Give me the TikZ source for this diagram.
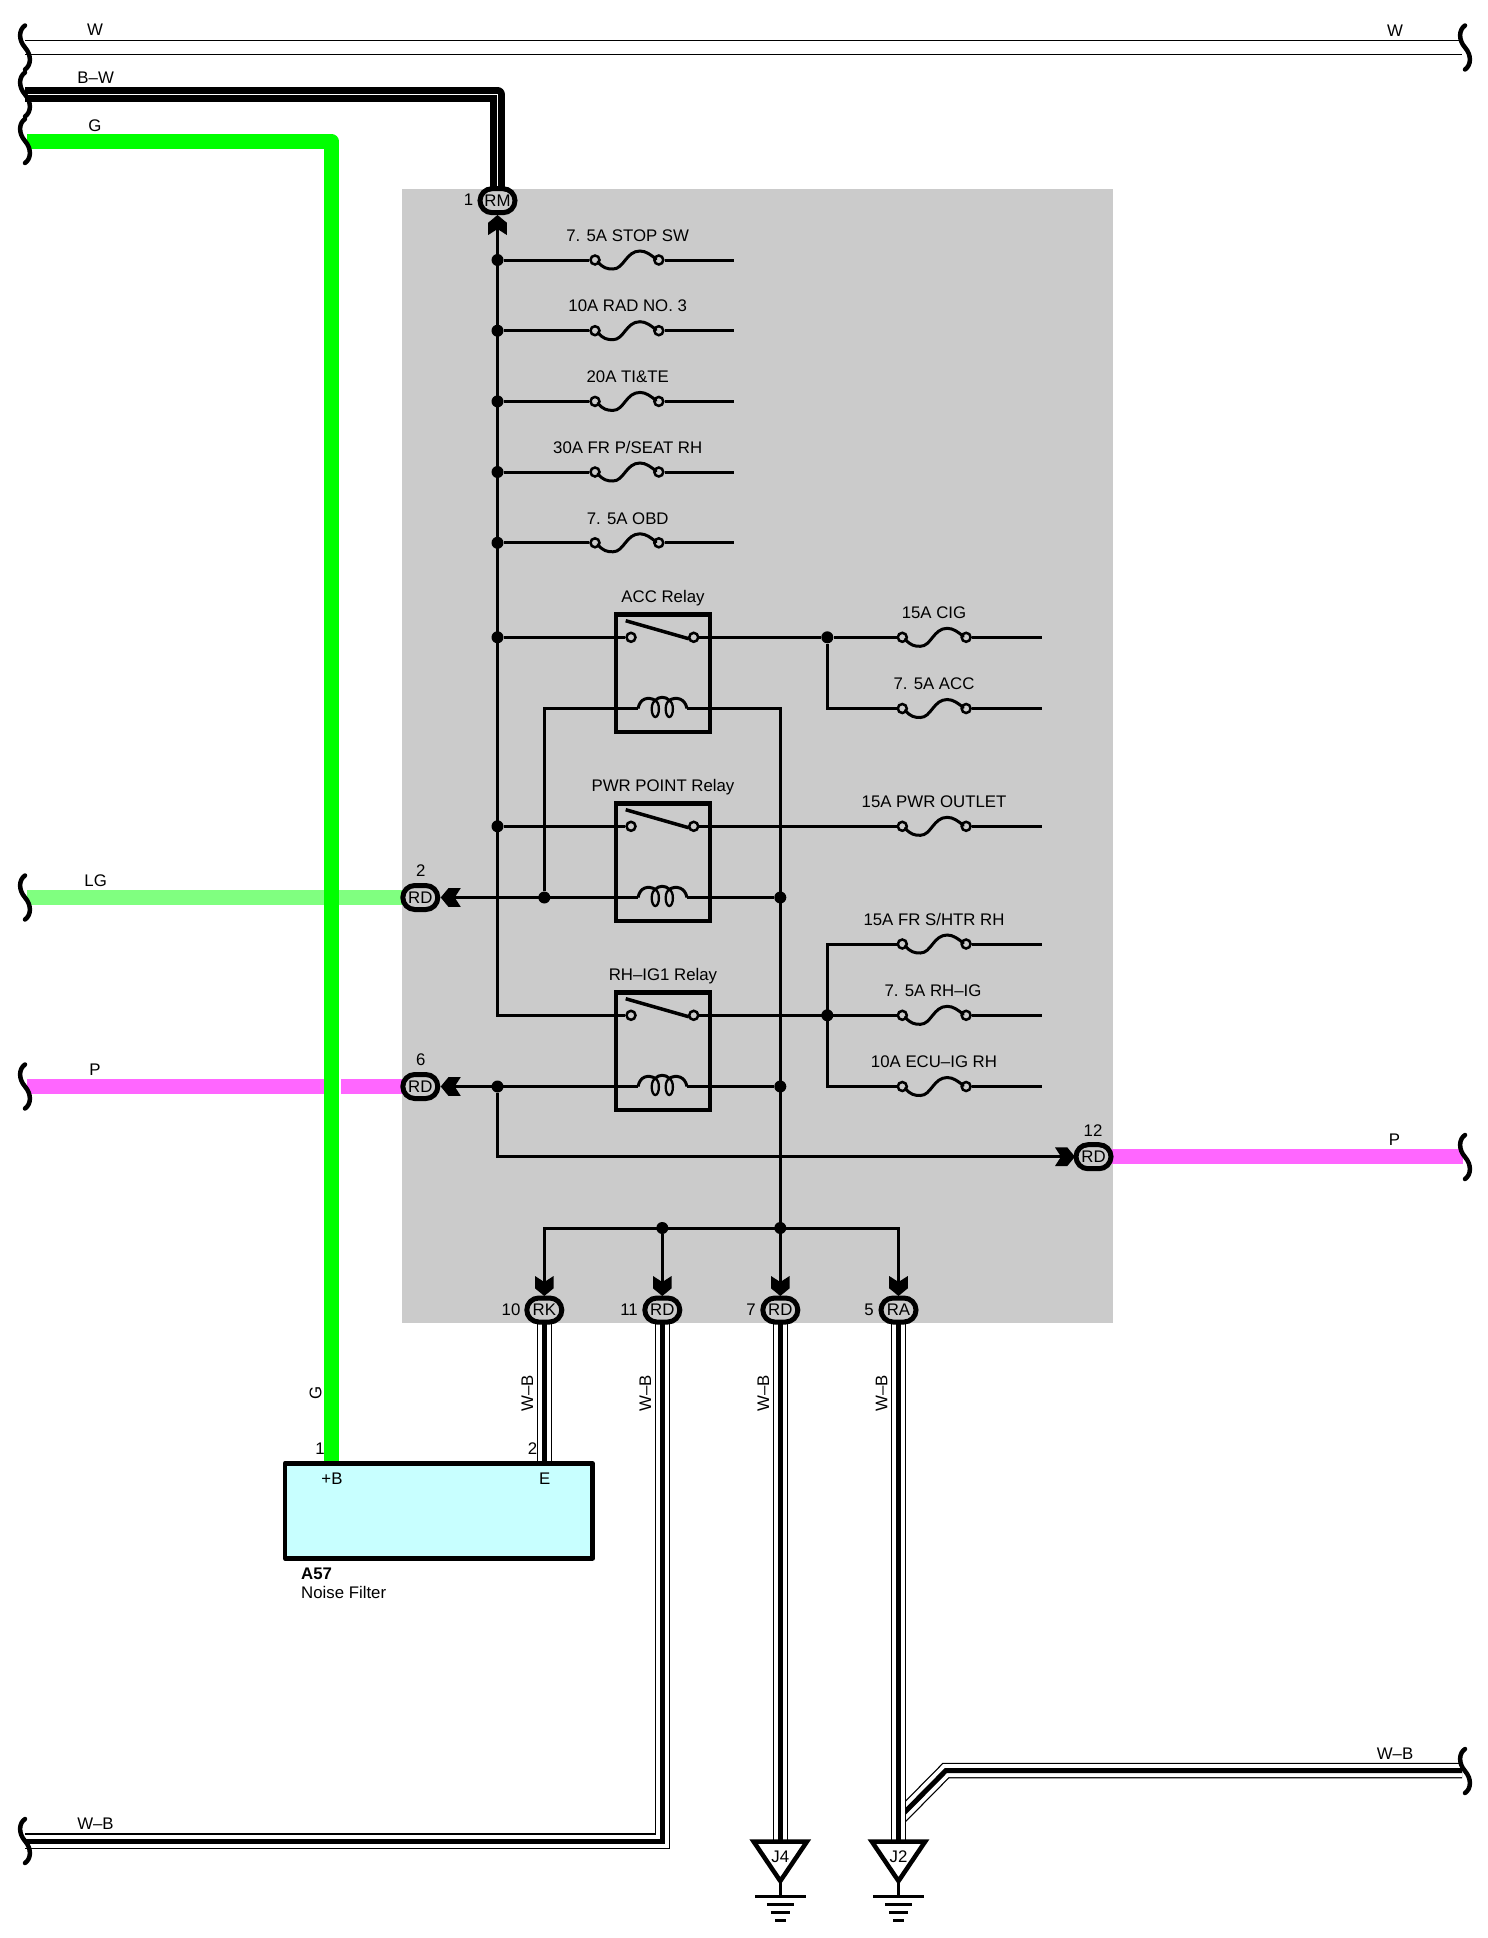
\documentclass[tikz,border=0pt]{standalone}
\usepackage{fontspec}
\setmainfont{Liberation Sans}
\usetikzlibrary{shapes.misc}
\definecolor{panelgray}{HTML}{CBCBCB}
\definecolor{wiregreen}{HTML}{00FF00}
\definecolor{wirelg}{HTML}{80FF80}
\definecolor{wirepink}{HTML}{FF66FF}
\definecolor{boxcyan}{HTML}{C8FFFF}
\tikzset{
  lbl/.style={inner sep=0pt,font=\fontsize{16.8}{18}\selectfont},
  boldlbl/.style={inner sep=0pt,font=\fontsize{16.8}{18}\selectfont\bfseries},
  sig/.style={line width=3pt,black,line join=miter},
  pin/.style={circle,draw=black,fill=panelgray,line width=2.5pt,minimum size=9pt,inner sep=0pt},
  dotn/.style={circle,fill=black,minimum size=12pt,inner sep=0pt},
  plug/.style={rounded rectangle,draw=black,fill=panelgray,line width=5pt,minimum width=35pt,minimum height=24pt,inner sep=0pt,font=\fontsize{16.8}{18}\selectfont},
  relaybox/.style={rectangle,draw=black,line width=4.5pt,minimum width=94pt,minimum height=117.5pt,inner sep=0pt},
  colorwire/.style={line width=15pt,line join=round},
  wbo/.style={line width=15.5pt,black,line join=miter},
  wbw/.style={line width=13pt,white,line join=miter},
  wbc/.style={line width=5pt,black,line join=miter},
  squigline/.style={line width=4.5pt,black,line cap=round},
  groundbar/.style={line width=3pt,black},
}
\newcommand{\squigmark}[2]{\draw[squigline] (#1,#2-22) .. controls (#1-6,#2-18) and (#1-7,#2-8) .. (#1,#2) .. controls (#1+7,#2+8) and (#1+6,#2+18) .. (#1,#2+22);}
\newcommand{\wbwire}[1]{\draw[wbo] #1; \draw[wbw] #1; \draw[wbc] #1;}
\newcommand{\tipmark}[3]{\begin{scope}[shift={(#1,#2)},rotate=#3]\fill[black] (0pt,0pt) -- (7.7pt,9.3pt) -- (20pt,9.3pt) -- (14pt,0pt) -- (20pt,-9.3pt) -- (7.7pt,-9.3pt) -- cycle;\end{scope}}
% id, left x, y, label, label x
\newcommand{\fusepart}[5]{%
  \node[pin] (#1-a) at (#2,#3) {};
  \node[pin] (#1-b) at (#2+63.8,#3) {};
  \draw[sig,line cap=round] (#2+3,#3+2) .. controls (#2+8,#3+8) and (#2+12,#3+9) .. (#2+18,#3+9) .. controls (#2+29,#3+9) and (#2+31,#3-9) .. (#2+45,#3-9) .. controls (#2+51,#3-9) and (#2+56,#3-5) .. (#2+61,#3-1);
  \node[lbl] (#1-t) at (#5,#3-24.5) {#4};
}
% id, contact y, label
\newcommand{\relaypart}[3]{%
  \node[relaybox] (#1) at (663,#2+36) {};
  \node[lbl] (#1-t) at (663,#2-39.5) {#3};
  \node[pin] (#1-l) at (631,#2) {};
  \node[pin] (#1-r) at (693.7,#2) {};
  \draw[line width=3.5pt,black] (625.7,#2-16.6) -- (689,#2+1.5);
  \coordinate (#1-cl) at (638,#2+71.2);
  \coordinate (#1-cr) at (687,#2+71.2);
  \draw[line width=3pt,black] (#1-cl) .. controls (640,#2+61) and (648,#2+59) .. (655.3,#2+63) .. controls (659,#2+59) and (665.5,#2+59) .. (669.3,#2+63) .. controls (676,#2+59) and (685,#2+61) .. (#1-cr);
  \draw[line width=2.3pt,black] (655.3,#2+71.7) ellipse [x radius=3.6pt,y radius=8pt];
  \draw[line width=2.3pt,black] (669.3,#2+71.7) ellipse [x radius=3.6pt,y radius=8pt];
}
% id, x, text
\newcommand{\groundpart}[3]{%
  \coordinate (#1-s) at (#2,1881);
  \coordinate (#1-g) at (#2,1896);
  \draw[line width=3pt,black] (#1-s) -- (#1-g);
  \draw[line width=4.5pt,black,fill=white,line join=miter] (#2-26.7,1841.5) -- (#2+26.7,1841.5) -- (#1-s) -- cycle;
  \node[lbl] (#1-t) at (#2,1857) {#3};
  \draw[groundbar] (#2-25.3,1896) -- (#2+25.3,1896);
  \draw[groundbar] (#2-13.5,1904.3) -- (#2+13.5,1904.3);
  \draw[groundbar] (#2-9.5,1912.7) -- (#2+9.5,1912.7);
  \draw[groundbar] (#2-5.3,1920.3) -- (#2+5.3,1920.3);
}
\begin{document}
\begin{tikzpicture}[x=1pt,y=-1pt]
\useasboundingbox (0,0) rectangle (1488,1938);
\fill[white] (0,0) rectangle (1488,1938);
% panel
\fill[panelgray] (402.3,189) rectangle (1112.5,1322.7);

% connector centres
\coordinate (cRM) at (497.5,200.7);
\coordinate (cD2) at (420.3,897.5);
\coordinate (cD6) at (420.3,1086.5);
\coordinate (cD12) at (1093.5,1156.7);
\coordinate (cRK) at (544.3,1310);
\coordinate (cD11) at (662.3,1310);
\coordinate (cD7) at (780.3,1310);
\coordinate (cRA) at (898.5,1310);

% free wire ends
\coordinate (wL) at (25,47.3);  \coordinate (wR) at (1462,47.3);
\coordinate (bwL) at (25,94.4); \coordinate (bwC) at (497.5,94.4);
\coordinate (gL) at (27,141.5); \coordinate (gC) at (331.7,141.5);
\coordinate (gE) at (331.7,1463);
\coordinate (lgL) at (27,897.5);
\coordinate (pL) at (27,1086.5);
\coordinate (pR) at (1463,1156.7);
\coordinate (ebT) at (544.3,1463);
\coordinate (wbL) at (25,1841);   \coordinate (wbC) at (662.3,1841);
\coordinate (j4T) at (780.3,1841);
\coordinate (j2T) at (898.5,1841);
\coordinate (brA) at (898.5,1818.5); \coordinate (brB) at (945.7,1770.7); \coordinate (brC) at (1462,1770.7);

% harness wires
\draw[wbo] (wL) -- (wR);
\draw[wbw] (wL) -- (wR);
\draw[line width=15pt,black,line join=round] (bwL) -- (bwC) -- (cRM);
\draw[line width=1.2pt,white] (bwL) -- (bwC) -- (cRM);
\draw[colorwire,wirelg] (lgL) -- (cD2);
\draw[colorwire,wirepink] (pL) -- (cD6);
\draw[line width=1.5pt,white] (339.8,1079) -- (339.8,1094);
\draw[colorwire,wiregreen] (gL) -- (gC) -- (gE);
\draw[colorwire,wirepink] (cD12) -- (pR);
\wbwire{(cRK) -- (ebT)}
\wbwire{(cD11) -- (wbC) -- (wbL)}
\wbwire{(brA) -- (brB) -- (brC)}
\wbwire{(cD7) -- (j4T)}
\wbwire{(cRA) -- (j2T)}

% squiggle breaks
\squigmark{25}{47.5}
\squigmark{25}{94.5}
\squigmark{25}{141}
\squigmark{25}{897.5}
\squigmark{25}{1086.5}
\squigmark{25}{1841}
\squigmark{1465}{47.5}
\squigmark{1465}{1157}
\squigmark{1465}{1771}

% fuses
\fusepart{fa}{595}{260}{7. 5A STOP SW}{627.7}
\fusepart{fb}{595}{330.7}{10A RAD NO. 3}{627.7}
\fusepart{fc}{595}{401.4}{20A TI\&TE}{627.7}
\fusepart{fd}{595}{472}{30A FR P/SEAT RH}{627.7}
\fusepart{fe}{595}{542.8}{7. 5A OBD}{627.7}
\fusepart{ff}{902.3}{637.3}{15A CIG}{934}
\fusepart{fg}{902.3}{708.5}{7. 5A ACC}{934}
\fusepart{fh}{902.3}{826.3}{15A PWR OUTLET}{934}
\fusepart{fi}{902.3}{944}{15A FR S/HTR RH}{934}
\fusepart{fj}{902.3}{1015.3}{7. 5A RH–IG}{933}
\fusepart{fk}{902.3}{1086.5}{10A ECU–IG RH}{934}

% relays
\relaypart{rA}{637.3}{ACC Relay}
\relaypart{rP}{826.3}{PWR POINT Relay}
\relaypart{rI}{1015.3}{RH–IG1 Relay}

% junction dots
\node[dotn] (j1) at (497.5,260) {};
\node[dotn] (j2) at (497.5,330.7) {};
\node[dotn] (j3) at (497.5,401.4) {};
\node[dotn] (j4) at (497.5,472) {};
\node[dotn] (j5) at (497.5,542.8) {};
\node[dotn] (j6) at (497.5,637.3) {};
\node[dotn] (j7) at (497.5,826.3) {};
\node[dotn] (j8) at (827.3,637.3) {};
\node[dotn] (j9) at (544.3,897.5) {};
\node[dotn] (j10) at (780.3,897.5) {};
\node[dotn] (j11) at (827.3,1015.3) {};
\node[dotn] (j12) at (497.5,1086.5) {};
\node[dotn] (j13) at (780.3,1086.5) {};
\node[dotn] (j14) at (662.3,1228) {};
\node[dotn] (j15) at (780.3,1228) {};

% bend and end points of signal wires
\coordinate (busEnd) at (497.5,1015.3);
\coordinate (tRM) at (497.5,229);
\coordinate (t2) at (454,897.5);
\coordinate (t6) at (454,1086.5);
\coordinate (t12) at (1061,1156.7);
\coordinate (tRK) at (544.3,1283);
\coordinate (tD11) at (662.3,1283);
\coordinate (tD7) at (780.3,1283);
\coordinate (tRA) at (898.5,1283);
\coordinate (kA) at (544.3,708.5);
\coordinate (kB) at (780.3,708.5);
\coordinate (kC) at (827.3,708.5);
\coordinate (kD) at (827.3,944);
\coordinate (kE) at (827.3,1086.5);
\coordinate (kF) at (497.5,1156.7);
\coordinate (kG) at (544.3,1228);
\coordinate (kH) at (898.5,1228);
\coordinate (e1) at (734.3,260);
\coordinate (e2) at (734.3,330.7);
\coordinate (e3) at (734.3,401.4);
\coordinate (e4) at (734.3,472);
\coordinate (e5) at (734.3,542.8);
\coordinate (e6) at (1042,637.3);
\coordinate (e7) at (1042,708.5);
\coordinate (e8) at (1042,826.3);
\coordinate (e9) at (1042,944);
\coordinate (e10) at (1042,1015.3);
\coordinate (e11) at (1042,1086.5);

% signal wires
\draw[sig] (tRM) -- (busEnd) -- (rI-l);
\draw[sig] (j1) -- (fa-a) (fa-b) -- (e1);
\draw[sig] (j2) -- (fb-a) (fb-b) -- (e2);
\draw[sig] (j3) -- (fc-a) (fc-b) -- (e3);
\draw[sig] (j4) -- (fd-a) (fd-b) -- (e4);
\draw[sig] (j5) -- (fe-a) (fe-b) -- (e5);
\draw[sig] (j6) -- (rA-l) (rA-r) -- (j8) -- (ff-a) (ff-b) -- (e6);
\draw[sig] (j8) -- (kC) -- (fg-a) (fg-b) -- (e7);
\draw[sig] (j7) -- (rP-l) (rP-r) -- (fh-a) (fh-b) -- (e8);
\draw[sig] (rI-r) -- (fj-a) (fj-b) -- (e10);
\draw[sig] (fi-a) -- (kD) -- (kE) -- (fk-a);
\draw[sig] (fi-b) -- (e9) (fk-b) -- (e11);
\draw[sig] (j9) -- (kA) -- (rA-cl) (rA-cr) -- (kB) -- (tD7);
\draw[sig] (t2) -- (rP-cl) (rP-cr) -- (j10);
\draw[sig] (t6) -- (rI-cl) (rI-cr) -- (j13);
\draw[sig] (j12) -- (kF) -- (t12);
\draw[sig] (tRK) -- (kG) -- (kH) -- (tRA);
\draw[sig] (j14) -- (tD11);

% arrow tips and connectors
\tipmark{497.5}{215}{-90}
\tipmark{440.7}{897.5}{0}
\tipmark{440.7}{1086.5}{0}
\tipmark{1075}{1156.7}{180}
\tipmark{544.3}{1296}{90}
\tipmark{662.3}{1296}{90}
\tipmark{780.3}{1296}{90}
\tipmark{898.5}{1296}{90}
\node[plug] (RM) at (cRM) {RM};
\node[plug] (D2) at (cD2) {RD};
\node[plug] (D6) at (cD6) {RD};
\node[plug] (D12) at (cD12) {RD};
\node[plug] (RK) at (cRK) {RK};
\node[plug] (D11) at (cD11) {RD};
\node[plug] (D7) at (cD7) {RD};
\node[plug] (RA) at (cRA) {RA};
\node[lbl] (nRM) at (468.6,200) {1};
\node[lbl] (n2) at (420.7,871) {2};
\node[lbl] (n6) at (420.7,1059.3) {6};
\node[lbl] (n12) at (1093,1130.7) {12};
\node[lbl] (n10) at (511,1309.5) {10};
\node[lbl] (n11) at (629,1309.5) {11};
\node[lbl] (n7) at (751,1309.5) {7};
\node[lbl] (n5) at (869,1309.5) {5};

% noise filter
\node[rectangle,draw=black,fill=boxcyan,line width=4.5pt,minimum width=307.5pt,minimum height=95pt,inner sep=0pt,line join=round] (filter) at (438.8,1510.8) {};
\node[lbl] (fp) at (332,1479) {+B};
\node[lbl] (fe2) at (544.7,1479) {E};
\node[lbl] (p1) at (320,1448.3) {1};
\node[lbl] (p2) at (532.5,1448.3) {2};
\node[boldlbl,anchor=west] (a57) at (301,1573.3) {A57};
\node[lbl,anchor=west] (nf) at (301,1592.7) {Noise Filter};

% grounds
\groundpart{gJ4}{780.3}{J4}
\groundpart{gJ2}{898.5}{J2}

% wire colour labels
\node[lbl] (l1) at (95,30) {W};
\node[lbl] (l2) at (1395,30.5) {W};
\node[lbl] (l3) at (95.7,77.3) {B–W};
\node[lbl] (l4) at (95,125.7) {G};
\node[lbl] (l5) at (95.7,880.7) {LG};
\node[lbl] (l6) at (95,1070) {P};
\node[lbl] (l7) at (1394.5,1140) {P};
\node[lbl] (l8) at (95.5,1824) {W–B};
\node[lbl] (l9) at (1395,1754) {W–B};
\node[lbl,rotate=90] (l10) at (315.5,1393.3) {G};
\node[lbl,rotate=90] (l11) at (527.3,1393.5) {W–B};
\node[lbl,rotate=90] (l12) at (645.3,1393.5) {W–B};
\node[lbl,rotate=90] (l13) at (763.3,1393.5) {W–B};
\node[lbl,rotate=90] (l14) at (881.7,1393.5) {W–B};
\end{tikzpicture}
\end{document}
